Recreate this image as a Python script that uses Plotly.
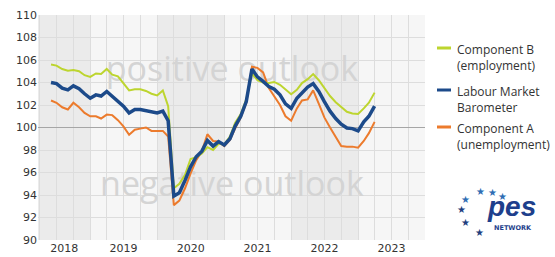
import pandas as pd
import plotly.graph_objects as go

# ---- data ----
months = pd.date_range("2018-06-01", "2023-04-01", freq="MS")

component_b = [105.6, 105.5, 105.2, 105.05, 105.1, 105.0, 104.65, 104.5, 104.8, 104.75,
               105.2, 104.7, 104.55, 103.95, 103.3, 103.4, 103.4, 103.25, 103.0, 102.85,
               103.3, 101.9, 94.6, 95.0, 95.8, 97.2, 97.35, 97.7, 98.25, 98.0,
               98.55, 98.5, 99.2, 100.4, 101.2, 102.5, 104.8, 104.2, 104.0, 103.95,
               104.05, 103.8, 103.35, 102.95, 103.35, 103.95, 104.3, 104.75, 104.2, 103.5,
               102.8, 102.25, 101.8, 101.4, 101.25, 101.2, 101.7, 102.2, 103.1]

barometer = [104.0, 103.9, 103.5, 103.35, 103.7, 103.45, 103.0, 102.6, 102.9, 102.8,
             103.2, 102.8, 102.3, 101.9, 101.3, 101.6, 101.6, 101.5, 101.35, 101.3,
             101.45, 100.6, 93.9, 94.2, 95.3, 96.5, 97.4, 97.9, 98.85, 98.35,
             98.75, 98.45, 99.0, 100.1, 101.0, 102.3, 105.2, 104.5, 104.1, 103.65,
             103.4, 102.9, 102.1, 101.7, 102.6, 103.1, 103.6, 103.9, 103.2, 102.3,
             101.45, 100.8, 100.3, 99.95, 99.9, 99.7, 100.5, 101.0, 101.9]

component_a = [102.4, 102.2, 101.8, 101.6, 102.2, 101.8, 101.3, 101.0, 101.0, 100.8,
               101.15, 101.1, 100.65, 100.1, 99.35, 99.8, 99.9, 100.0, 99.7, 99.7,
               99.7, 99.2, 93.1, 93.5, 94.6, 95.9, 97.1, 97.9, 99.4, 98.8,
               98.75, 98.35, 98.9, 99.9, 100.9, 102.2, 105.4, 105.3, 104.9, 103.5,
               102.8, 102.0, 101.0, 100.6, 101.7, 102.4, 102.5, 103.3, 102.1, 100.9,
               100.0, 99.15, 98.35, 98.3, 98.3, 98.2, 98.8, 99.5, 100.5]

year_labels = ["2018", "2019", "2020", "2021", "2022", "2023"]
year_tick_pos = ["2018-08-12", "2019-07-02", "2020-07-02", "2021-07-02", "2022-07-02", "2023-07-02"]
y_ticks = list(range(90, 111, 2))

legend_names = ["Component B<br>(employment)", "Labour Market<br>Barometer", "Component A<br>(unemployment)"]

GREEN = "#bdd52f"
BLUE = "#1c4a8a"
ORANGE = "#ec7b2d"

X0, X1 = "2018-03-22", "2024-01-01"

fig = go.Figure()

# watermark text (under the lines)
fig.add_trace(go.Scatter(
    x=["2021-02-12", "2021-02-12"], y=[104.9, 94.7], mode="text",
    text=["positive outlook", "negative outlook"],
    textfont=dict(family="Open Sans", size=34, color="#d4d4d4"),
    hoverinfo="skip", showlegend=False))

# reference line at 100
fig.add_trace(go.Scatter(x=[X0, X1], y=[100, 100], mode="lines",
                         line=dict(color="#a6a6a6", width=1), hoverinfo="skip", showlegend=False))

fig.add_trace(go.Scatter(x=months, y=component_a, mode="lines",
                         line=dict(color=ORANGE, width=2), showlegend=False))
fig.add_trace(go.Scatter(x=months, y=component_b, mode="lines",
                         line=dict(color=GREEN, width=2), showlegend=False))
fig.add_trace(go.Scatter(x=months, y=barometer, mode="lines",
                         line=dict(color=BLUE, width=3.5), showlegend=False))

# year bands
shapes = []
for y0, y1 in [("2018-01-01", "2019-01-01"), ("2020-01-01", "2021-01-01"), ("2022-01-01", "2023-01-01")]:
    shapes.append(dict(type="rect", xref="x", yref="paper", x0=y0, x1=y1, y0=0, y1=1,
                       fillcolor="#ebebeb", line=dict(width=0), layer="below"))

L, R, T, B = 38, 425, 15, 240


def px(xp):
    return (xp - L) / (R - L)


def py(yp):
    return (B - yp) / (B - T)


annotations = []
legend_colors = [GREEN, BLUE, ORANGE]
legend_y = [48, 90, 127]
for name, col, yy in zip(legend_names, legend_colors, legend_y):
    shapes.append(dict(type="line", xref="paper", yref="paper", x0=px(437), x1=px(451),
                       y0=py(yy), y1=py(yy), line=dict(color=col, width=3)))
    annotations.append(dict(xref="paper", yref="paper", x=px(455), y=py(yy - 9), text=name,
                            showarrow=False, xanchor="left", yanchor="top", align="left",
                            font=dict(family="Open Sans", size=12, color="#333333")))

# logo: stars arc + "pes NETWORK"
stars = [(465, 199, "#2e6db4"), (480, 191, "#2e6db4"), (492, 192, "#2e6db4"), (502, 196, "#2e6db4"),
         (461, 209, "#1f3f7f"), (466, 222, "#1f3f7f"), (479, 232, "#1f3f7f")]
for sx, sy, sc in stars:
    annotations.append(dict(xref="paper", yref="paper", x=px(sx), y=py(sy), text="★",
                            xanchor="center", yanchor="middle",
                            showarrow=False, font=dict(family="DejaVu Sans", size=10, color=sc)))
annotations.append(dict(xref="paper", yref="paper", x=px(511), y=py(206), text="<b><i>pes</i></b>",
                        xanchor="center", yanchor="middle",
                        showarrow=False, font=dict(family="Liberation Sans", size=28, color="#1e3f8c")))
annotations.append(dict(xref="paper", yref="paper", x=px(513), y=py(228), text="<b>NETWORK</b>",
                        xanchor="center", yanchor="middle",
                        showarrow=False, font=dict(family="DejaVu Sans", size=6.5, color="#1e3f8c")))

fig.update_layout(
    width=555, height=257,
    margin=dict(l=L, r=555 - R, t=T, b=257 - B),
    paper_bgcolor="white", plot_bgcolor="#f6f6f6",
    shapes=shapes, annotations=annotations,
    showlegend=False,
    xaxis=dict(type="date", range=[X0, X1], tickmode="array", tickvals=year_tick_pos,
               ticktext=year_labels, showgrid=False, zeroline=False, ticks="", ticklen=0,
               tickfont=dict(family="DejaVu Sans", size=11, color="#333333"),
               minor=dict(tickmode="linear", tick0="2018-01-01", dtick="M3", showgrid=True,
                          gridcolor="#dddddd", gridwidth=1, ticks=""),
               automargin=False, fixedrange=True),
    yaxis=dict(range=[90, 110], tickmode="array", tickvals=y_ticks, showgrid=True,
               gridcolor="#dddddd", gridwidth=1, zeroline=False, ticks="", ticklen=0,
               tickfont=dict(family="DejaVu Sans", size=11, color="#333333"),
               automargin=False, fixedrange=True),
)

fig.write_html("out.html", config={"displayModeBar": False},
               post_script="document.body.style.margin='0';")
